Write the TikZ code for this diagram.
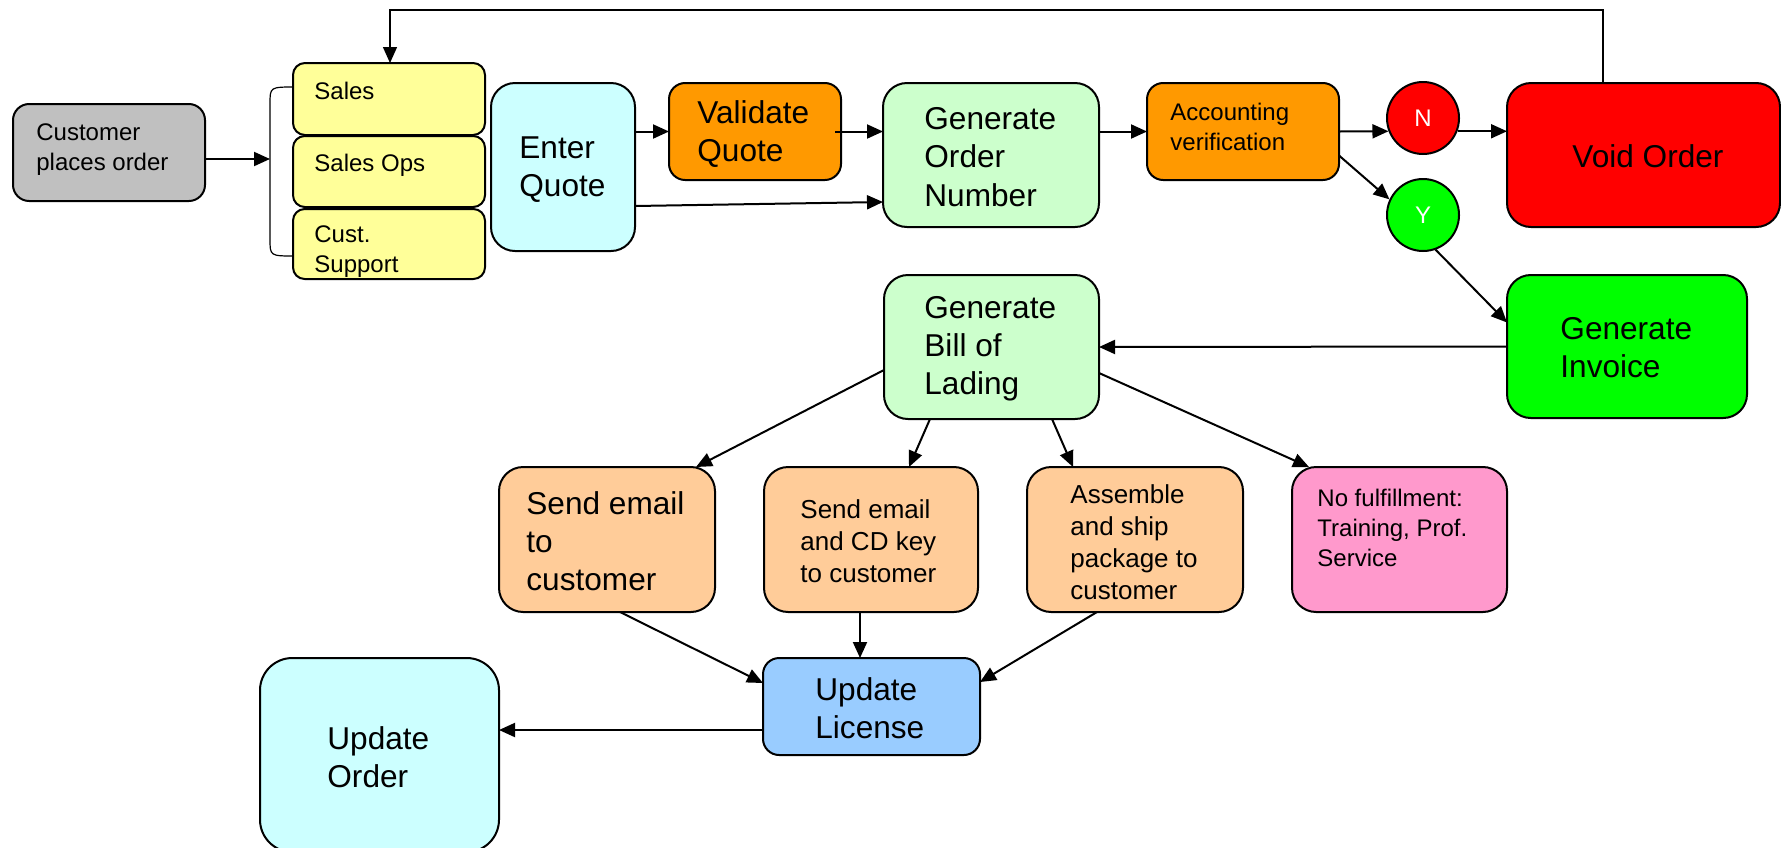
\documentclass[tikz,border=0pt]{standalone}
\usepackage{fontspec}
\setmainfont{Liberation Sans}
\usetikzlibrary{arrows.meta}
\definecolor{cgray}{HTML}{C0C0C0}
\definecolor{cyellow}{HTML}{FFFF99}
\definecolor{ccyan}{HTML}{CCFFFF}
\definecolor{corange}{HTML}{FF9900}
\definecolor{cmint}{HTML}{CCFFCC}
\definecolor{cred}{HTML}{FF0000}
\definecolor{cgreen}{HTML}{00FF00}
\definecolor{cpeach}{HTML}{FFCC99}
\definecolor{cpink}{HTML}{FF99CC}
\definecolor{cblue}{HTML}{99CCFF}
% rounded box from corner (x1,y1) to (x2,y2), corner radius one sixth of the shorter side
\newcommand\flowbox[6]{%
  \pgfmathsetmacro\fbw{(#4-#2)/2}%
  \pgfmathsetmacro\fbh{(#5-#3)/2}%
  \pgfmathsetmacro\fbr{min(\fbw,\fbh)/6}%
  \node[box, fill=#6, minimum width=\fbw pt, minimum height=\fbh pt,
        rounded corners=\fbr pt] (#1) at ({(#2+#4)/2},{(#3+#5)/2}) {};}
\begin{document}
\begin{tikzpicture}[x=0.5pt, y=-0.5pt,
  box/.style={draw=black, line width=1pt, inner sep=0pt, outer sep=0pt},
  sm/.style={anchor=west, align=left, inner sep=0pt, font=\fontsize{12}{15}\selectfont},
  md/.style={anchor=west, align=left, inner sep=0pt, font=\fontsize{13}{16}\selectfont},
  lg/.style={anchor=west, align=left, inner sep=0pt, font=\fontsize{15.8}{19.1}\selectfont},
  arr/.style={draw=black, line width=1pt, -{Triangle[length=8pt,width=7pt]}},
  decision/.style={circle, draw=black, line width=1pt, minimum size=36pt, inner sep=0pt,
    text=white, font=\fontsize{12}{14}\selectfont}]
\useasboundingbox (0,0) rectangle (1781,847);

% brace gathering the three front-office teams
\draw[line width=0.6pt] (295,87) .. controls (270,87) .. (270,104) -- (270,239)
  .. controls (270,256) .. (295,256);

% boxes
\flowbox{customer}{13}{104}{205}{201}{cgray}
\flowbox{sales}{293}{63}{485}{135}{cyellow}
\flowbox{salesops}{293}{136}{485}{207}{cyellow}
\flowbox{custsup}{293}{209}{485}{279}{cyellow}
\flowbox{enterq}{491}{83}{635}{251}{ccyan}
\flowbox{validq}{669}{83}{841}{180}{corange}
\flowbox{gon}{883}{83}{1099}{227}{cmint}
\flowbox{acct}{1147}{83}{1339}{180}{corange}
\flowbox{void}{1507}{83}{1780}{227}{cred}
\flowbox{invoice}{1507}{275}{1747}{418}{cgreen}
\flowbox{gbl}{884}{275}{1099}{419}{cmint}
\flowbox{email}{499}{467}{715}{612}{cpeach}
\flowbox{cdkey}{764}{467}{978}{612}{cpeach}
\flowbox{assemble}{1027}{467}{1243}{612}{cpeach}
\flowbox{nofulfil}{1292}{467}{1507}{612}{cpink}
\flowbox{ulicense}{763}{658}{980}{755}{cblue}
\flowbox{uorder}{260}{658}{499}{852}{ccyan}

\node[decision, fill=cred] (N) at (1423,118) {N};
\node[decision, fill=cgreen] (Y) at (1423,215) {Y};

% box texts
\node[sm] (customer-t) at (36,150) {Customer\\places order};
\node[sm] (sales-t) at (314,91) {Sales};
\node[sm] (salesops-t) at (314,165) {Sales Ops};
\node[sm] (custsup-t) at (314,252) {Cust.\\Support};
\node[lg] (enterq-t) at (519,170) {Enter\\Quote};
\node[lg] (validq-t) at (697,134) {Validate\\Quote};
\node[lg] (gon-t) at (924,157) {Generate\\Order\\Number};
\node[sm] (acct-t) at (1170,127) {Accounting\\verification};
\node[lg] (void-t) at (1572,156) {Void Order};
\node[lg] (invoice-t) at (1560,348) {Generate\\Invoice};
\node[lg] (gbl-t) at (924,349) {Generate\\Bill of\\Lading};
\node[lg] (email-t) at (526,541) {Send email\\to\\customer};
\node[md] (cdkey-t) at (800,541) {Send email\\and CD key\\to customer};
\node[md] (assemble-t) at (1070,542) {Assemble\\and ship\\package to\\customer};
\node[sm] (nofulfil-t) at (1317,528) {No fulfillment:\\Training, Prof.\\Service};
\node[lg] (ulicense-t) at (815,708) {Update\\License};
\node[lg] (uorder-t) at (327,757) {Update\\Order};

% connectors
\coordinate (brk) at (270,159);
\draw[arr] (customer.east |- brk) -- (brk);

\coordinate (fbR) at (1603,10);
\coordinate (fbL) at (390,10);
\draw[arr, line width=0.7pt] (void.north -| fbR) -- (fbR) -- (fbL) -- (sales.north -| fbL);

\draw[arr] (enterq.east |- validq.west) -- (validq.west);
\draw[arr] ([xshift=-3pt]validq.east) -- (gon.west |- validq.east);
\draw[arr] ([yshift=-19.5pt]enterq.east) -- ([yshift=-23.5pt]gon.west);
\draw[arr] (gon.east |- acct.west) -- (acct.west);
\draw[arr] (acct.east) -- (N.201);
\draw[arr] (N.339) -- (void.west |- N.339);
\draw[arr] ([yshift=-12pt]acct.east) -- (Y.155);
\draw[arr] (Y.290) -- ([yshift=12pt]invoice.west);
\draw[arr] (invoice.west) -- (gbl.east);

\draw[arr] ([yshift=-11.5pt]gbl.west) -- ([xshift=44.5pt]email.north);
\draw[arr] ([xshift=-30.75pt]gbl.south) -- ([xshift=19pt]cdkey.north);
\draw[arr] ([xshift=30.25pt]gbl.south) -- ([xshift=-31pt]assemble.north);
\draw[arr] ([yshift=-13pt]gbl.east) -- ([xshift=-45.25pt]nofulfil.north);

\draw[arr] ([xshift=6.5pt]email.south) -- ([yshift=11.75pt]ulicense.west);
\draw[arr] ([xshift=-5.5pt]cdkey.south) -- ([xshift=-5.5pt]cdkey.south |- ulicense.north);
\draw[arr] ([xshift=-19pt]assemble.south) -- ([yshift=12.25pt]ulicense.east);
\coordinate (ulout) at ([yshift=-11.75pt]ulicense.west);
\draw[arr] (ulout) -- (uorder.east |- ulout);
\end{tikzpicture}
\end{document}
